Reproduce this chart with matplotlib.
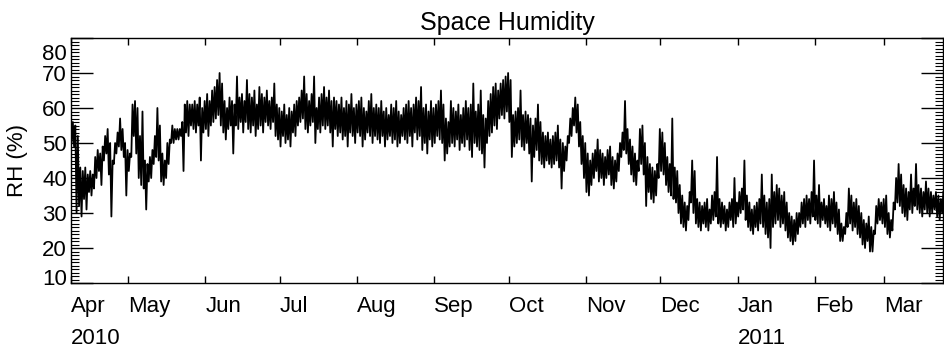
import datetime as dt

import matplotlib
matplotlib.use("Agg")
import matplotlib.pyplot as plt
import matplotlib.dates as mdates
import matplotlib.transforms as mtransforms
from matplotlib.ticker import MultipleLocator
import numpy as np

plt.rcParams['font.family'] = ['Liberation Sans', 'DejaVu Sans']

# daily minimum / maximum relative humidity (%), starting 2010-04-08
START = dt.datetime(2010, 4, 8)

RH_LOW = [
    # Apr
    50, 49, 30, 32, 29, 34, 31, 36, 35, 37, 40, 42, 38, 45, 47, 41, 29, 44, 47, 49,
    48, 46, 35,
    # May
    42, 46, 52, 47, 40, 38, 37, 31, 39, 40, 44, 46, 45, 39, 38, 40, 44, 50, 50, 51,
    51, 52, 42, 53, 52, 55, 54, 53, 55, 45, 53,
    # Jun
    54, 52, 55, 56, 57, 58, 55, 53, 51, 54, 55, 47, 55, 54, 56, 53, 56, 54, 53, 55,
    52, 54, 55, 53, 56, 55, 54, 56, 52, 51,
    # Jul
    49, 52, 50, 51, 49, 53, 52, 55, 56, 57, 54, 53, 55, 56, 50, 54, 53, 55, 54, 55,
    53, 49, 54, 52, 53, 51, 52, 49, 53, 52, 50,
    # Aug
    53, 52, 49, 51, 53, 52, 50, 52, 51, 50, 52, 49, 51, 52, 50, 51, 49, 50, 52, 51,
    50, 52, 49, 53, 51, 52, 48, 50, 47, 51, 49,
    # Sep
    50, 52, 51, 50, 45, 47, 49, 50, 49, 51, 48, 50, 49, 51, 48, 46, 50, 49, 48, 47,
    43, 50, 52, 53, 55, 54, 57, 58, 57, 59,
    # Oct
    56, 46, 49, 50, 51, 49, 48, 50, 47, 39, 46, 48, 45, 44, 43, 45, 44, 43, 44, 45,
    43, 37, 42, 45, 50, 52, 55, 53, 49, 44, 40,
    # Nov
    36, 35, 38, 40, 42, 39, 40, 38, 40, 41, 38, 37, 39, 42, 46, 48, 47, 44, 41, 39,
    38, 42, 44, 41, 32, 36, 34, 33, 35, 40,
    # Dec
    42, 41, 38, 36, 35, 34, 33, 30, 27, 26, 25, 28, 33, 30, 27, 26, 25, 27, 26, 25,
    27, 28, 29, 27, 26, 27, 25, 26, 28, 26, 27,
    # Jan
    29, 30, 31, 28, 26, 25, 24, 26, 25, 27, 26, 24, 23, 20, 26, 27, 28, 26, 27, 25,
    23, 22, 21, 22, 24, 26, 27, 26, 28, 27, 29,
    # Feb
    28, 27, 26, 28, 27, 26, 25, 27, 26, 24, 22, 22, 24, 26, 27, 25, 26, 24, 23, 21,
    20, 22, 19, 19, 24, 27, 28, 27,
    # Mar
    26, 24, 23, 25, 31, 33, 32, 30, 29, 28, 31, 30, 32, 31, 30, 29, 31, 30, 29, 30,
    31, 29, 28, 30,
]

RH_HIGH = [
    # Apr
    56, 55, 52, 43, 42, 43, 41, 42, 41, 46, 48, 47, 49, 52, 54, 50, 45, 50, 53, 57,
    54, 50, 48,
    # May
    47, 61, 62, 60, 52, 59, 45, 44, 46, 48, 52, 60, 55, 47, 45, 50, 51, 55, 54, 54,
    54, 56, 61, 62, 61, 61, 62, 61, 63, 60, 62,
    # Jun
    64, 62, 65, 66, 68, 70, 67, 62, 60, 63, 62, 61, 69, 63, 64, 62, 68, 64, 63, 65,
    61, 66, 64, 63, 65, 62, 63, 67, 61, 60,
    # Jul
    59, 61, 58, 60, 59, 61, 62, 63, 65, 69, 64, 62, 64, 69, 60, 63, 64, 66, 63, 65,
    62, 63, 62, 61, 63, 60, 62, 61, 64, 60, 61,
    # Aug
    62, 63, 60, 59, 62, 64, 60, 61, 60, 62, 59, 60, 58, 61, 60, 62, 59, 58, 60, 61,
    62, 60, 61, 63, 62, 66, 60, 61, 59, 62, 60,
    # Sep
    61, 62, 65, 61, 57, 56, 62, 60, 59, 61, 58, 60, 62, 60, 61, 67, 59, 61, 65, 58,
    57, 62, 64, 66, 67, 65, 67, 68, 69, 70,
    # Oct
    68, 58, 59, 60, 65, 58, 59, 58, 57, 55, 57, 61, 56, 53, 52, 53, 51, 52, 53, 55,
    51, 50, 49, 52, 57, 60, 63, 61, 56, 52, 50,
    # Nov
    47, 45, 47, 48, 51, 48, 47, 46, 48, 49, 46, 45, 47, 50, 53, 62, 54, 51, 49, 47,
    45, 54, 55, 50, 46, 44, 43, 42, 44, 54,
    # Dec
    53, 50, 46, 44, 57, 43, 42, 38, 35, 33, 32, 36, 45, 42, 34, 33, 32, 33, 34, 31,
    35, 36, 46, 34, 33, 32, 31, 33, 34, 40, 33,
    # Jan
    36, 37, 45, 35, 33, 31, 32, 33, 34, 41, 35, 33, 34, 41, 36, 38, 37, 35, 36, 33,
    30, 29, 28, 30, 30, 33, 34, 35, 34, 36, 45,
    # Feb
    35, 38, 33, 34, 32, 35, 34, 36, 33, 31, 27, 26, 30, 37, 35, 33, 34, 32, 30, 28,
    27, 29, 26, 25, 32, 34, 33, 34,
    # Mar
    35, 30, 28, 33, 40, 44, 41, 38, 37, 36, 41, 37, 44, 38, 37, 36, 39, 37, 36, 35,
    36, 35, 34, 36,
]

MONTHS = ['Apr', 'May', 'Jun', 'Jul', 'Aug', 'Sep', 'Oct', 'Nov', 'Dec',
          'Jan', 'Feb', 'Mar']
MONTH_STARTS = [START] + [dt.datetime(2010, m, 1) for m in range(5, 13)] + \
               [dt.datetime(2011, m, 1) for m in range(1, 4)]
YEARS = [('2010', START), ('2011', dt.datetime(2011, 1, 1))]

# zig-zag between the low and high of each day
n = len(RH_LOW)
day = np.arange(n)
t = np.column_stack([day + 0.25, day + 0.75]).ravel()
rh = np.column_stack([RH_LOW, RH_HIGH]).ravel()
x = mdates.date2num(START) + t

fig = plt.figure(figsize=(9.45, 3.49), dpi=100)
ax = fig.add_axes([0.0751, 0.1891, 0.9228, 0.702])

ax.plot(x, rh, color='black', lw=1.3)

x0 = mdates.date2num(START)
ax.set_xlim(x0, x0 + 350.6)
ax.set_ylim(10, 80)

ax.set_title('Space Humidity', fontsize=18, pad=6)
ax.set_ylabel('RH (%)', fontsize=16, labelpad=10)

ax.set_yticks(range(10, 81, 10))
ax.yaxis.set_minor_locator(MultipleLocator(1))
ax.tick_params(axis='y', which='major', direction='in', length=16, width=1,
               left=True, right=True, labelsize=16, pad=3)
ax.tick_params(axis='y', which='minor', direction='in', length=6, width=0.8,
               left=True, right=True)

# end labels sit inside the frame
ylabels = ax.get_yticklabels()
shift_top = mtransforms.ScaledTranslation(0, -14 / 100, fig.dpi_scale_trans)
shift_bot = mtransforms.ScaledTranslation(0, 6 / 100, fig.dpi_scale_trans)
ylabels[-1].set_transform(ylabels[-1].get_transform() + shift_top)
ylabels[0].set_transform(ylabels[0].get_transform() + shift_bot)

ax.set_xticks(mdates.date2num(MONTH_STARTS))
ax.set_xticklabels(MONTHS, fontsize=16, ha='left')
ax.tick_params(axis='x', which='major', direction='in', length=5, width=1,
               top=True, bottom=True, pad=9)
ax.tick_params(axis='x', which='minor', bottom=False, top=False)

trans = mtransforms.blended_transform_factory(ax.transData, ax.transAxes)
for label, when in YEARS:
    ax.text(mdates.date2num(when), -0.225, label, transform=trans,
            fontsize=16, ha='left', va='center')

for s in ax.spines.values():
    s.set_linewidth(1)

fig.savefig('out.png', dpi=100)
